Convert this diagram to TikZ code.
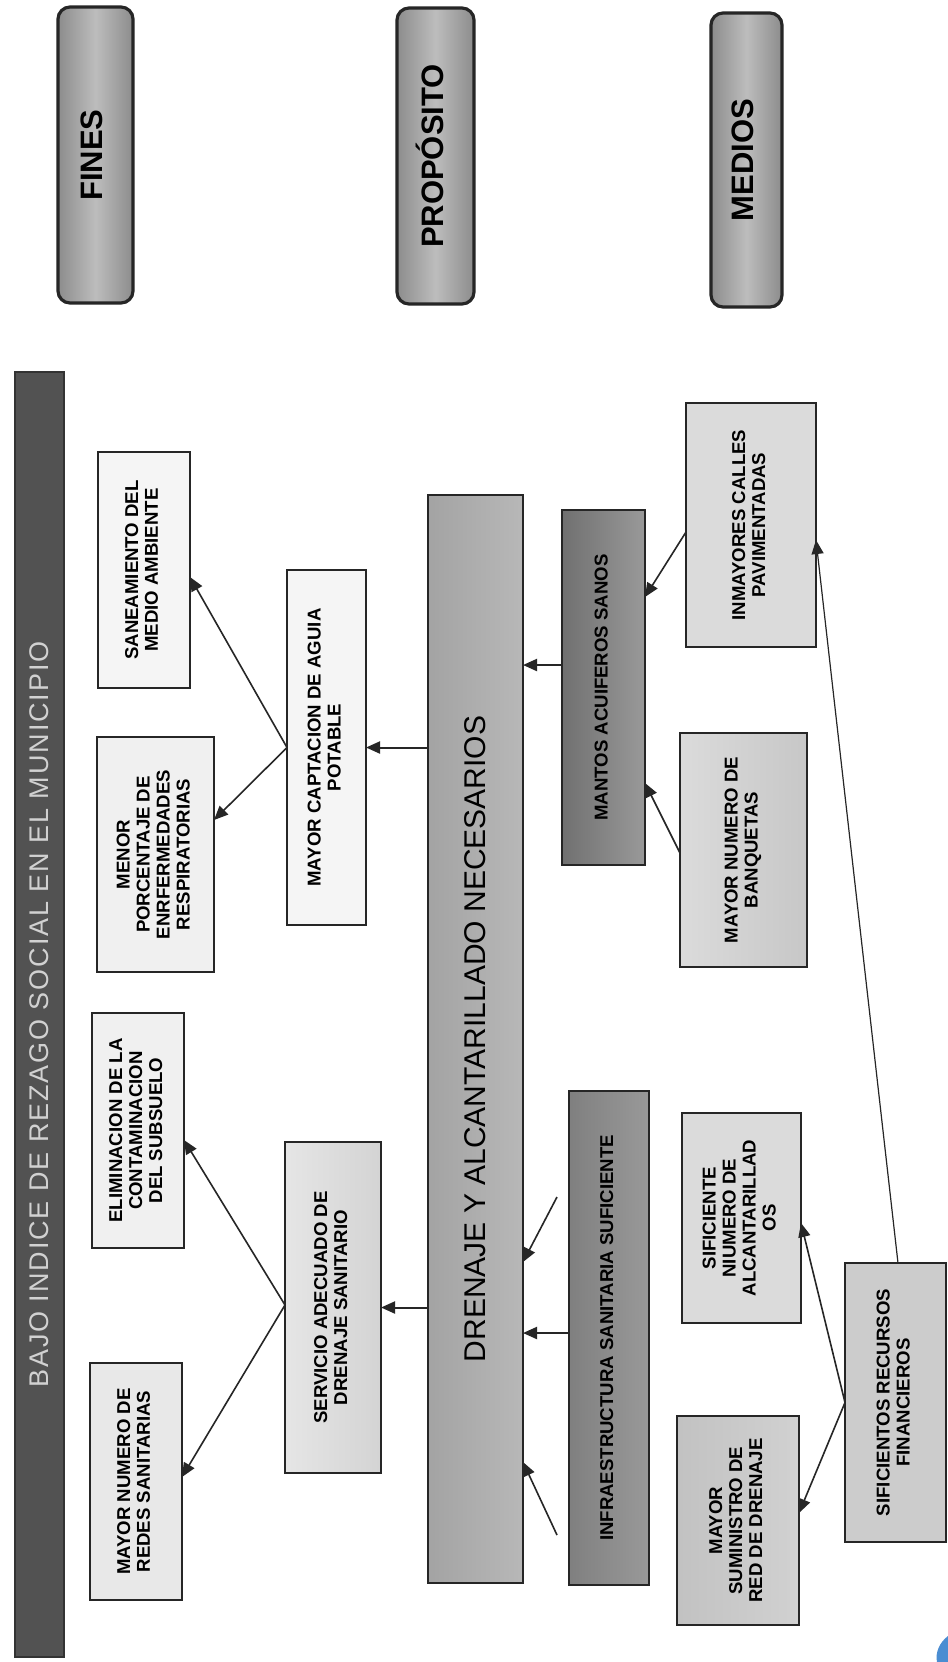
\documentclass[tikz,border=0pt]{standalone}
\usepackage{fontspec}
\setmainfont{Liberation Sans}
\newfontfamily\spacedfont[LetterSpace=7]{Liberation Sans}
\usetikzlibrary{arrows.meta,calc}
\newcommand{\rottext}[1]{\rotatebox{90}{\begin{tabular}{@{}c@{}}#1\end{tabular}}}
\tikzset{
 every node/.style={outer sep=0pt, inner sep=0pt},
 box/.style={draw=black!85, line width=1pt, font=\fontsize{9.3}{10}\selectfont\bfseries},
 labelbox/.style={draw=black!85, line width=1.6pt, rounded corners=6pt, left color=black!45, right color=black!45, middle color=black!26, font=\fontsize{15.5}{18}\selectfont\bfseries},
 arr/.style={line width=0.8pt, draw=black!85, -{Triangle[length=7pt,width=6pt]}},
}
\begin{document}
\begin{tikzpicture}[x=0.5pt,y=-0.5pt]
\useasboundingbox (0,0) rectangle (948,1662);
\fill[white] (0,0) rectangle (948,1662);

% column headers
\node[labelbox, minimum width=37.5pt, minimum height=148pt] (fines) at (95.5,155) {\rottext{FINES}};
\node[labelbox, minimum width=38.5pt, minimum height=148pt] (prop) at (435.5,156) {\rottext{PROPÓSITO}};
\node[labelbox, minimum width=35.5pt, minimum height=147pt] (medios) at (746.5,160) {\rottext{MEDIOS}};

% title bar
\node[draw=black!80, fill=black!68, line width=0.8pt, minimum width=24.5pt, minimum height=642.5pt, text=black!18, font=\fontsize{13.5}{16}\spacedfont] (title) at (39.5,1014.5) {\rotatebox{90}{BAJO INDICE DE REZAGO SOCIAL EN EL MUNICIPIO}};

% fines
\node[box, fill=black!4, minimum width=46pt, minimum height=118pt] (sanea) at (144,570) {\rottext{SANEAMIENTO DEL\\MEDIO AMBIENTE}};
\node[box, fill=black!6, minimum width=58.5pt, minimum height=117.5pt] (menor) at (155.5,854.5) {\rottext{MENOR\\PORCENTAJE DE\\ENRFERMEDADES\\RESPIRATORIAS}};
\node[box, fill=black!6, minimum width=46pt, minimum height=117.5pt] (elim) at (138,1130.5) {\rottext{ELIMINACION DE LA\\CONTAMINACION\\DEL SUBSUELO}};
\node[box, fill=black!9, minimum width=46pt, minimum height=118.5pt] (redes) at (136,1481.5) {\rottext{MAYOR NUMERO DE\\REDES SANITARIAS}};
\node[box, fill=black!4, minimum width=39.5pt, minimum height=177.5pt] (capt) at (326.5,747.5) {\rottext{MAYOR CAPTACION DE AGUIA\\POTABLE}};
\node[box, left color=black!10, right color=black!17, minimum width=48pt, minimum height=165.5pt] (serv) at (333,1307.5) {\rottext{SERVICIO ADECUADO DE\\DRENAJE SANITARIO}};

% proposito
\node[box, left color=black!36, right color=black!28, minimum width=47.5pt, minimum height=544pt, font=\fontsize{15}{18}\selectfont\mdseries] (dren) at (475.5,1039) {\rotatebox{90}{DRENAJE Y ALCANTARILLADO NECESARIOS}};

% medios
\node[box, left color=black!56, right color=black!40, minimum width=41.5pt, minimum height=177.5pt] (mantos) at (603.5,687.5) {\rottext{MANTOS ACUIFEROS SANOS}};
\node[box, left color=black!50, right color=black!40, minimum width=40pt, minimum height=247pt] (infra) at (609,1338) {\rottext{INFRAESTRUCTURA SANITARIA SUFICIENTE}};
\node[box, fill=black!14, minimum width=65pt, minimum height=122pt] (inmay) at (751,525) {\rottext{INMAYORES CALLES\\PAVIMENTADAS}};
\node[box, left color=black!14, right color=black!22, minimum width=63.5pt, minimum height=117pt] (banq) at (743.5,850) {\rottext{MAYOR NUMERO DE\\BANQUETAS}};
\node[box, fill=black!14, minimum width=59.5pt, minimum height=105pt] (alcan) at (741.5,1218) {\rottext{SIFICIENTE\\NIUMERO DE\\ALCANTARILLAD\\OS}};
\node[box, left color=black!24, right color=black!18, minimum width=61pt, minimum height=104.5pt] (sumin) at (738,1520.5) {\rottext{MAYOR\\SUMINISTRO DE\\RED DE DRENAJE}};
\node[box, fill=black!20, minimum width=50.5pt, minimum height=139.5pt] (sific) at (895.5,1402.5) {\rottext{SIFICIENTOS RECURSOS\\FINANCIEROS}};

% free arrow tails
\coordinate (f1) at (557,1197);
\coordinate (f2) at (557,1535);

% connectors
\draw[arr] (capt.west) -- ($(sanea.east)+(0,7)$);
\draw[arr] (capt.west) -- ($(menor.east)+(0,-34.5)$);
\draw[arr, line width=1pt] (dren.west |- capt.west) -- (capt.east);
\coordinate (m1) at ($(mantos.west)+(0,-22.5)$);
\draw[arr, line width=1pt] (m1) -- (dren.east |- m1);
\draw[arr] ($(inmay.west)+(0,7)$) -- ($(mantos.east)+(0,-90.5)$);
\draw[arr] ($(banq.west)+(0,3)$) -- ($(mantos.east)+(0,95.5)$);
\draw[arr, line width=0.6pt] ($(sific.north)+(2.5,0)$) -- ($(inmay.east)+(0,15)$);
\draw[arr] ($(serv.west)+(0,-2.5)$) -- ($(elim.east)+(0,9.5)$);
\draw[arr] ($(serv.west)+(0,-2.5)$) -- ($(redes.east)+(0,-4.5)$);
\draw[arr, line width=1pt] (dren.west |- serv.east) -- (serv.east);
\coordinate (i1) at ($(infra.west)+(0,-5)$);
\draw[arr, line width=1pt] (i1) -- (dren.east |- i1);
\draw[arr] (f1) -- ($(dren.east)+(0,223)$);
\draw[arr] (f2) -- ($(dren.east)+(0,423)$);
\draw[arr] (sific.west) -- ($(alcan.east)+(0,5)$);
\draw[arr] (sific.west) -- ($(sumin.east)+(0,-7.5)$);

% corner logo fragment
\fill[cyan!55!blue!75] (948,1636) .. controls (940,1642) and (935,1652) .. (937,1662) -- (948,1662) -- cycle;
\end{tikzpicture}
\end{document}
